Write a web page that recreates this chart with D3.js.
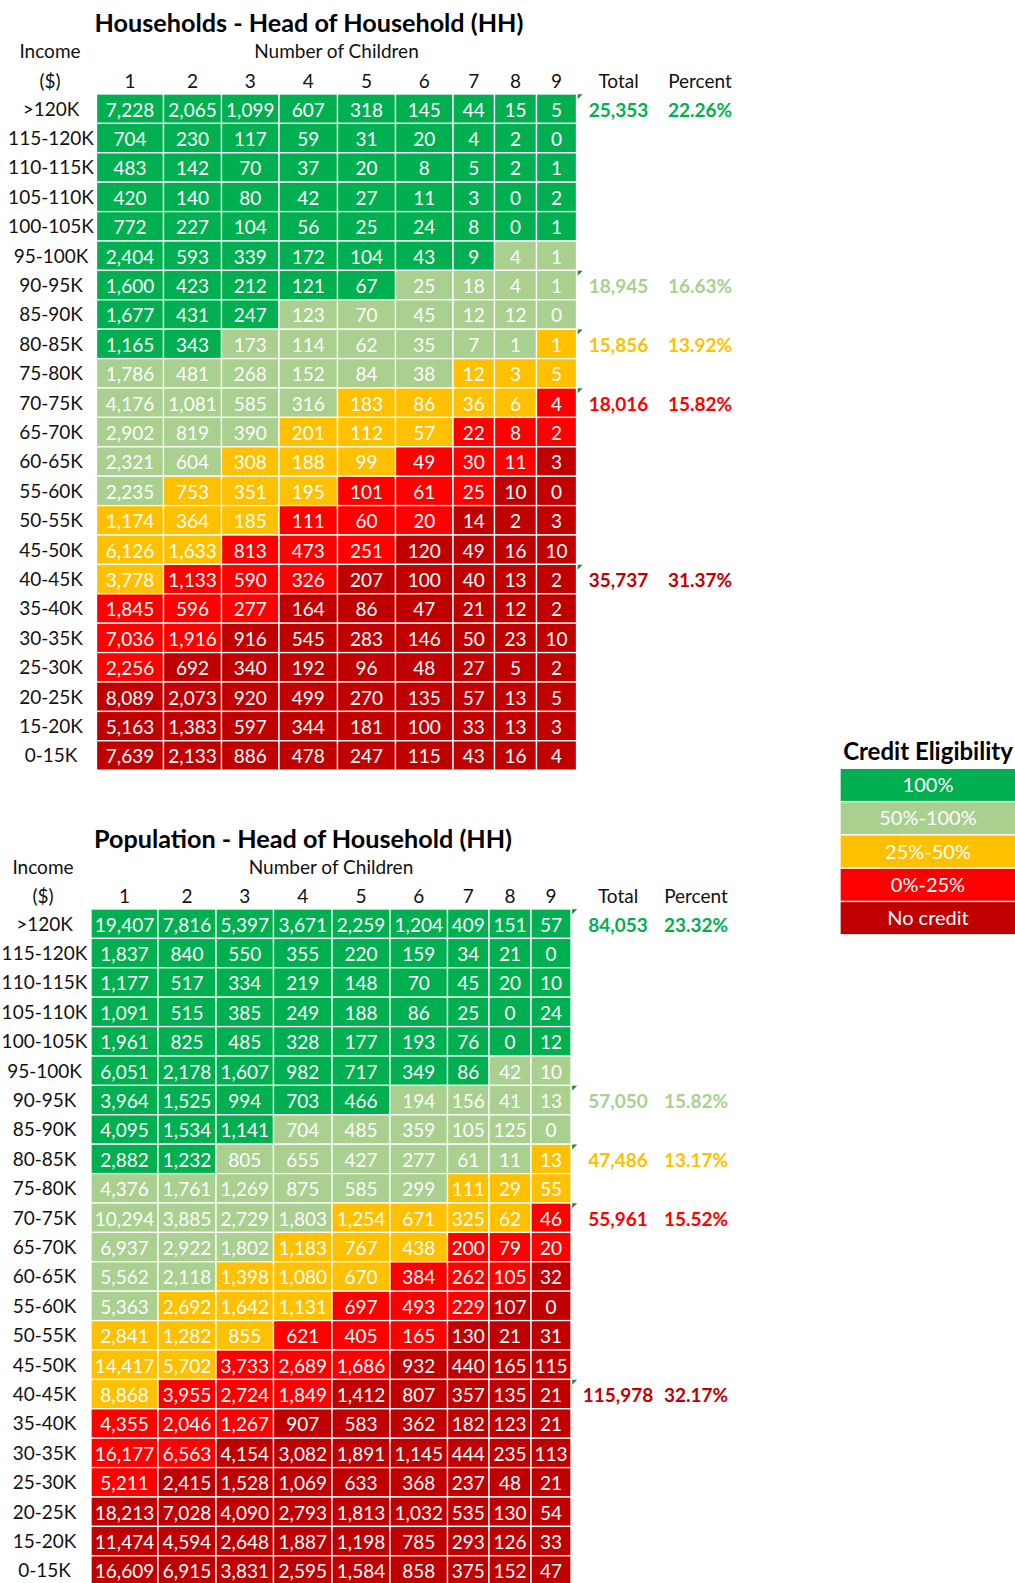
<!DOCTYPE html>
<html>
<head>
<meta charset="utf-8">
<script src="https://cdn.jsdelivr.net/npm/d3@7"></script>
<style>
  html, body { margin: 0; padding: 0; background: #fff; }
  svg { display: block; }
  text { font-family: Lato, "Open Sans", sans-serif; }
</style>
</head>
<body>
<svg id="chart"></svg>
<script>
// ---- Data ---------------------------------------------------------------
const incomeBands = [">120K", "115-120K", "110-115K", "105-110K", "100-105K", "95-100K",
  "90-95K", "85-90K", "80-85K", "75-80K", "70-75K", "65-70K", "60-65K", "55-60K",
  "50-55K", "45-50K", "40-45K", "35-40K", "30-35K", "25-30K", "20-25K", "15-20K", "0-15K"];

const childCounts = ["1", "2", "3", "4", "5", "6", "7", "8", "9"];

const eligibilityLevels = ["100%", "50%-100%", "25%-50%", "0%-25%", "No credit"];
const eligibilityColors = ["#00B050", "#A9D08E", "#FFC000", "#FF0000", "#C00000"];

// Credit eligibility level (index into eligibilityLevels) for every income band / child count
const eligibility = [
  [0, 0, 0, 0, 0, 0, 0, 0, 0],
  [0, 0, 0, 0, 0, 0, 0, 0, 0],
  [0, 0, 0, 0, 0, 0, 0, 0, 0],
  [0, 0, 0, 0, 0, 0, 0, 0, 0],
  [0, 0, 0, 0, 0, 0, 0, 0, 0],
  [0, 0, 0, 0, 0, 0, 0, 1, 1],
  [0, 0, 0, 0, 0, 1, 1, 1, 1],
  [0, 0, 0, 1, 1, 1, 1, 1, 1],
  [0, 0, 1, 1, 1, 1, 1, 1, 2],
  [1, 1, 1, 1, 1, 1, 2, 2, 2],
  [1, 1, 1, 1, 2, 2, 2, 2, 3],
  [1, 1, 1, 2, 2, 2, 3, 3, 3],
  [1, 1, 2, 2, 2, 3, 3, 3, 4],
  [1, 2, 2, 2, 3, 3, 3, 4, 4],
  [2, 2, 2, 3, 3, 3, 4, 4, 4],
  [2, 2, 3, 3, 3, 4, 4, 4, 4],
  [2, 3, 3, 3, 4, 4, 4, 4, 4],
  [3, 3, 3, 4, 4, 4, 4, 4, 4],
  [3, 3, 4, 4, 4, 4, 4, 4, 4],
  [3, 4, 4, 4, 4, 4, 4, 4, 4],
  [4, 4, 4, 4, 4, 4, 4, 4, 4],
  [4, 4, 4, 4, 4, 4, 4, 4, 4],
  [4, 4, 4, 4, 4, 4, 4, 4, 4]
];

const householdCounts = [
  [7228, 2065, 1099, 607, 318, 145, 44, 15, 5],
  [704, 230, 117, 59, 31, 20, 4, 2, 0],
  [483, 142, 70, 37, 20, 8, 5, 2, 1],
  [420, 140, 80, 42, 27, 11, 3, 0, 2],
  [772, 227, 104, 56, 25, 24, 8, 0, 1],
  [2404, 593, 339, 172, 104, 43, 9, 4, 1],
  [1600, 423, 212, 121, 67, 25, 18, 4, 1],
  [1677, 431, 247, 123, 70, 45, 12, 12, 0],
  [1165, 343, 173, 114, 62, 35, 7, 1, 1],
  [1786, 481, 268, 152, 84, 38, 12, 3, 5],
  [4176, 1081, 585, 316, 183, 86, 36, 6, 4],
  [2902, 819, 390, 201, 112, 57, 22, 8, 2],
  [2321, 604, 308, 188, 99, 49, 30, 11, 3],
  [2235, 753, 351, 195, 101, 61, 25, 10, 0],
  [1174, 364, 185, 111, 60, 20, 14, 2, 3],
  [6126, 1633, 813, 473, 251, 120, 49, 16, 10],
  [3778, 1133, 590, 326, 207, 100, 40, 13, 2],
  [1845, 596, 277, 164, 86, 47, 21, 12, 2],
  [7036, 1916, 916, 545, 283, 146, 50, 23, 10],
  [2256, 692, 340, 192, 96, 48, 27, 5, 2],
  [8089, 2073, 920, 499, 270, 135, 57, 13, 5],
  [5163, 1383, 597, 344, 181, 100, 33, 13, 3],
  [7639, 2133, 886, 478, 247, 115, 43, 16, 4]
];

const populationCounts = [
  [19407, 7816, 5397, 3671, 2259, 1204, 409, 151, 57],
  [1837, 840, 550, 355, 220, 159, 34, 21, 0],
  [1177, 517, 334, 219, 148, 70, 45, 20, 10],
  [1091, 515, 385, 249, 188, 86, 25, 0, 24],
  [1961, 825, 485, 328, 177, 193, 76, 0, 12],
  [6051, 2178, 1607, 982, 717, 349, 86, 42, 10],
  [3964, 1525, 994, 703, 466, 194, 156, 41, 13],
  [4095, 1534, 1141, 704, 485, 359, 105, 125, 0],
  [2882, 1232, 805, 655, 427, 277, 61, 11, 13],
  [4376, 1761, 1269, 875, 585, 299, 111, 29, 55],
  [10294, 3885, 2729, 1803, 1254, 671, 325, 62, 46],
  [6937, 2922, 1802, 1183, 767, 438, 200, 79, 20],
  [5562, 2118, 1398, 1080, 670, 384, 262, 105, 32],
  [5363, 2692, 1642, 1131, 697, 493, 229, 107, 0],
  [2841, 1282, 855, 621, 405, 165, 130, 21, 31],
  [14417, 5702, 3733, 2689, 1686, 932, 440, 165, 115],
  [8868, 3955, 2724, 1849, 1412, 807, 357, 135, 21],
  [4355, 2046, 1267, 907, 583, 362, 182, 123, 21],
  [16177, 6563, 4154, 3082, 1891, 1145, 444, 235, 113],
  [5211, 2415, 1528, 1069, 633, 368, 237, 48, 21],
  [18213, 7028, 4090, 2793, 1813, 1032, 535, 130, 54],
  [11474, 4594, 2648, 1887, 1198, 785, 293, 126, 33],
  [16609, 6915, 3831, 2595, 1584, 858, 375, 152, 47]
];

// Summary per eligibility level (one line per level, shown beside the band where it starts)
const summaryBands = [">120K", "90-95K", "80-85K", "70-75K", "40-45K"];
const householdTotals = [25353, 18945, 15856, 18016, 35737];
const householdPercents = [22.26, 16.63, 13.92, 15.82, 31.37];
const populationTotals = [84053, 57050, 47486, 55961, 115978];
const populationPercents = [23.32, 15.82, 13.17, 15.52, 32.17];

// ---- Layout -------------------------------------------------------------
const W = 1015, H = 1583;
const colWidths = [67, 58, 57.5, 58.5, 58, 57.5, 41.5, 42, 40];
const rowH = 29.4;
const FONT = 19;
const TITLE_FONT = 25.2;
const TEXT = "#111";

const svg = d3.select("#chart").attr("width", W).attr("height", H);
svg.append("rect").attr("width", W).attr("height", H).attr("fill", "#fff");

const color = d3.scaleOrdinal().domain(eligibilityLevels).range(eligibilityColors);
const fmt = d3.format(",");
const pctFmt = d3.format(".2f");
const base = (cy, size) => cy + 0.36 * size;

function drawTable(cfg, counts, totals, percents) {
  const g = svg.append("g");
  const edges = d3.cumsum([0, ...colWidths.slice(0, -1)]);
  const x = d3.scaleOrdinal().domain(childCounts).range(edges.map(e => cfg.left + e));
  const w = d3.scaleOrdinal().domain(childCounts).range(colWidths);
  const gridRight = cfg.left + d3.sum(colWidths);
  const y = d3.scaleBand().domain(incomeBands)
    .range([cfg.top, cfg.top + rowH * incomeBands.length]).padding(0);

  // title and headings
  g.append("text").attr("x", cfg.titleX).attr("y", base(cfg.titleY, TITLE_FONT))
    .attr("text-anchor", "middle").attr("font-size", TITLE_FONT).attr("font-weight", 700)
    .attr("fill", "#000").text(cfg.title);
  g.append("text").attr("x", cfg.incomeX).attr("y", base(cfg.incomeY, FONT))
    .attr("text-anchor", "middle").attr("font-size", FONT).attr("fill", TEXT).text("Income");
  g.append("text").attr("x", cfg.incomeX).attr("y", base(cfg.headerY, FONT))
    .attr("text-anchor", "middle").attr("font-size", FONT).attr("fill", TEXT).text("($)");
  g.append("text").attr("x", (cfg.left + gridRight) / 2).attr("y", base(cfg.incomeY, FONT))
    .attr("text-anchor", "middle").attr("font-size", FONT).attr("fill", TEXT)
    .text("Number of Children");
  g.selectAll("text.col").data(childCounts).join("text")
    .attr("class", "col")
    .attr("x", c => x(c) + w(c) / 2).attr("y", base(cfg.headerY, FONT))
    .attr("text-anchor", "middle").attr("font-size", FONT).attr("fill", TEXT).text(c => c);
  g.append("text").attr("x", cfg.totalX).attr("y", base(cfg.headerY, FONT))
    .attr("text-anchor", "middle").attr("font-size", FONT).attr("fill", TEXT).text("Total");
  g.append("text").attr("x", cfg.pctX).attr("y", base(cfg.headerY, FONT))
    .attr("text-anchor", "middle").attr("font-size", FONT).attr("fill", TEXT).text("Percent");

  // income band labels
  g.selectAll("text.band").data(incomeBands).join("text")
    .attr("class", "band")
    .attr("x", cfg.labelX).attr("y", b => base(y(b) + rowH / 2, FONT))
    .attr("text-anchor", "middle").attr("font-size", FONT).attr("fill", TEXT).text(b => b);

  // cells
  const cells = [];
  incomeBands.forEach((b, i) => childCounts.forEach((c, j) => cells.push({
    band: b, child: c, value: counts[i][j], level: eligibilityLevels[eligibility[i][j]]
  })));

  g.selectAll("rect.cell").data(cells).join("rect")
    .attr("class", "cell")
    .attr("x", d => x(d.child)).attr("y", d => y(d.band))
    .attr("width", d => w(d.child)).attr("height", y.bandwidth())
    .attr("fill", d => color(d.level))
    .attr("stroke", "#fff").attr("stroke-width", 1.3);

  g.selectAll("text.val").data(cells).join("text")
    .attr("class", "val")
    .attr("x", d => x(d.child) + w(d.child) / 2)
    .attr("y", d => base(y(d.band) + rowH / 2 + 1, FONT))
    .attr("text-anchor", "middle").attr("font-size", FONT).attr("fill", "#fff")
    .text(d => fmt(d.value));

  // summary totals per eligibility level
  const summary = summaryBands.map((b, i) => ({
    band: b, total: totals[i], pct: percents[i], level: eligibilityLevels[i]
  }));
  g.selectAll("path.flag").data(summary).join("path")
    .attr("class", "flag")
    .attr("d", d => {
      const x0 = gridRight + 1.2, y0 = y(d.band) + 0.3;
      return `M${x0},${y0}L${x0 + 5},${y0}L${x0},${y0 + 5}Z`;
    })
    .attr("fill", "#1E8A3C");
  g.selectAll("text.tot").data(summary).join("text")
    .attr("class", "tot")
    .attr("x", cfg.totalX).attr("y", d => base(y(d.band) + rowH / 2 + 1, FONT))
    .attr("text-anchor", "middle").attr("font-size", FONT).attr("font-weight", 700)
    .attr("fill", d => color(d.level)).text(d => fmt(d.total));
  g.selectAll("text.pct").data(summary).join("text")
    .attr("class", "pct")
    .attr("x", cfg.pctX).attr("y", d => base(y(d.band) + rowH / 2 + 1, FONT))
    .attr("text-anchor", "middle").attr("font-size", FONT).attr("font-weight", 700)
    .attr("fill", d => color(d.level)).text(d => pctFmt(d.pct) + "%");
}

drawTable({
  title: "Households - Head of Household (HH)",
  left: 96.5, top: 94, titleX: 309, titleY: 23, incomeY: 51.5, headerY: 80.8,
  incomeX: 50, labelX: 51, totalX: 618.5, pctX: 700
}, householdCounts, householdTotals, householdPercents);

drawTable({
  title: "Population - Head of Household (HH)",
  left: 91, top: 909, titleX: 303, titleY: 838.5, incomeY: 867.5, headerY: 896.5,
  incomeX: 43, labelX: 44.5, totalX: 618, pctX: 696
}, populationCounts, populationTotals, populationPercents);

// ---- Legend -------------------------------------------------------------
const legend = svg.append("g");
const ly = d3.scaleBand().domain(eligibilityLevels).range([768.3, 768.3 + 33.3 * 5]);
legend.append("text").attr("x", 928).attr("y", base(751, 24))
  .attr("text-anchor", "middle").attr("font-size", 24).attr("font-weight", 700)
  .attr("fill", "#000").text("Credit Eligibility");
legend.selectAll("rect").data(eligibilityLevels).join("rect")
  .attr("x", 840).attr("y", d => ly(d)).attr("width", 176).attr("height", ly.bandwidth())
  .attr("fill", d => color(d)).attr("stroke", "#fff").attr("stroke-width", 1.3);
legend.selectAll("text.lg").data(eligibilityLevels).join("text")
  .attr("class", "lg")
  .attr("x", 928).attr("y", d => base(ly(d) + ly.bandwidth() / 2, 20))
  .attr("text-anchor", "middle").attr("font-size", 20).attr("fill", "#fff").text(d => d);
</script>
</body>
</html>
